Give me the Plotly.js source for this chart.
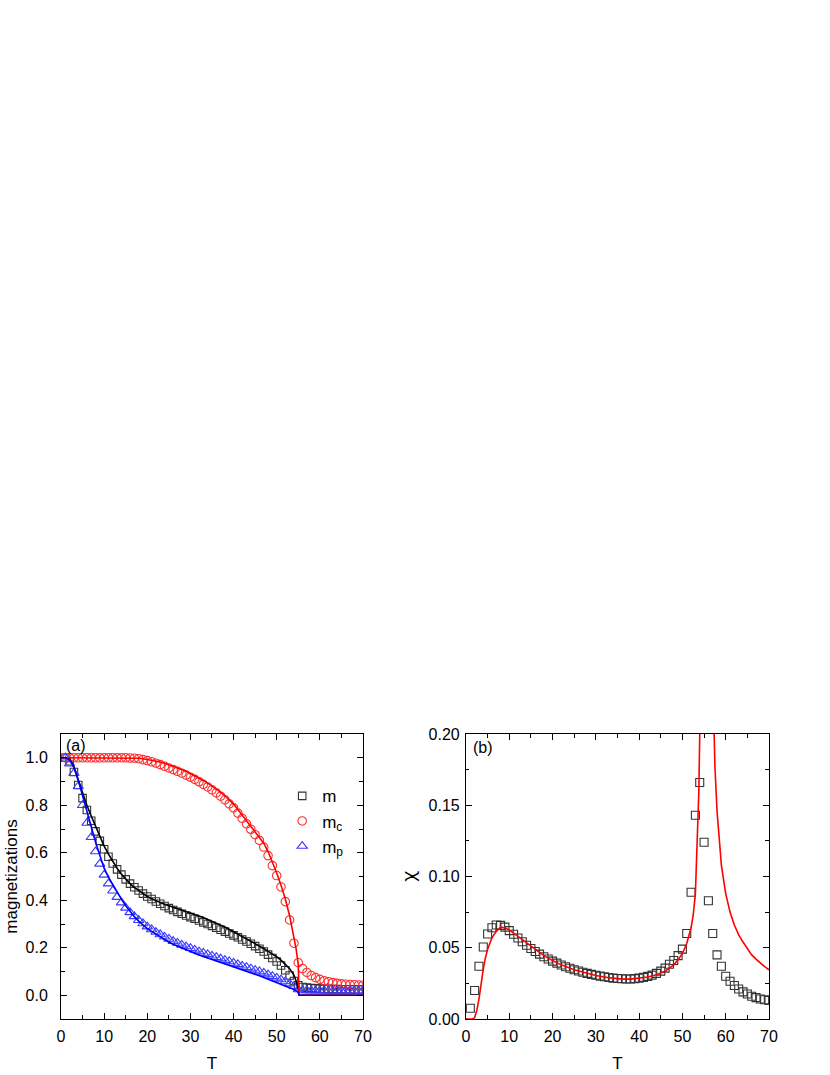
<!DOCTYPE html>
<html>
<head>
<meta charset="utf-8">
<script src="https://cdn.plot.ly/plotly-3.0.1.min.js"></script>
<style>
  body { margin: 0; background: #fff; }
  #chart { width: 830px; height: 1075px; }
</style>
</head>
<body>
<div id="chart"></div>
<script>
// temperatures of the simulation points (both panels)
const tPts = [1,2,3,4,5,6,7,8,9,10,11,12,13,14,15,16,17,18,19,20,
  21,22,23,24,25,26,27,28,29,30,31,32,33,34,35,36,37,38,39,40,
  41,42,43,44,45,46,47,48,49,50,51,52,53,54,55,56,57,58,59,60,
  61,62,63,64,65,66,67,68,69,70];

// panel (a): simulation points
const mPts = [1.000,0.985,0.940,0.885,0.830,0.780,0.735,0.690,0.650,0.615,
  0.583,0.555,0.530,0.508,0.488,0.470,0.455,0.441,0.428,0.416,
  0.405,0.395,0.385,0.376,0.367,0.359,0.351,0.343,0.336,0.329,
  0.322,0.315,0.307,0.300,0.292,0.284,0.276,0.268,0.260,0.252,
  0.244,0.235,0.226,0.217,0.207,0.196,0.184,0.171,0.157,0.142,
  0.125,0.105,0.083,0.060,0.042,0.035,0.032,0.030,0.029,0.028,
  0.027,0.027,0.026,0.026,0.025,0.025,0.025,0.024,0.024,0.024];
const mcPts = [1.000,1.000,1.000,1.000,1.000,1.000,1.000,1.000,1.000,1.000,
  1.000,1.000,1.000,1.000,1.000,0.999,0.998,0.996,0.992,0.988,
  0.983,0.977,0.971,0.964,0.957,0.950,0.943,0.935,0.927,0.918,
  0.909,0.899,0.888,0.877,0.865,0.852,0.838,0.823,0.806,0.789,
  0.767,0.745,0.722,0.699,0.676,0.652,0.624,0.588,0.546,0.504,
  0.456,0.394,0.317,0.219,0.137,0.112,0.096,0.083,0.074,0.067,
  0.061,0.057,0.053,0.050,0.048,0.046,0.045,0.044,0.043,0.042];
const mpPts = [1.000,0.975,0.935,0.880,0.800,0.725,0.665,0.605,0.553,0.507,
  0.470,0.440,0.413,0.390,0.368,0.349,0.332,0.316,0.302,0.289,
  0.277,0.266,0.256,0.246,0.237,0.228,0.220,0.212,0.205,0.198,
  0.191,0.184,0.178,0.172,0.166,0.160,0.154,0.148,0.142,0.136,
  0.130,0.124,0.118,0.112,0.106,0.100,0.094,0.087,0.080,0.073,
  0.066,0.058,0.049,0.039,0.024,0.020,0.020,0.019,0.019,0.019,
  0.019,0.018,0.018,0.018,0.018,0.018,0.018,0.018,0.018,0.018];

// panel (a): theory curves
const tLineA = [0,1,2,3,4,5,6,7,8,9,10,11,12,13,14,15,16,17,18,19,
  20,21,22,23,24,25,26,27,28,29,30,31,32,33,34,35,36,37,38,39,
  40,41,42,43,44,45,46,47,48,49,50,51,52,53,54,54.5,55,55.2,56,60,65,70];
const mLine = [1.000,1.000,0.998,0.960,0.905,0.850,0.800,0.755,0.710,0.668,
  0.628,0.594,0.563,0.535,0.510,0.489,0.470,0.454,0.440,0.428,
  0.416,0.406,0.397,0.390,0.383,0.377,0.372,0.366,0.360,0.353,
  0.347,0.340,0.334,0.327,0.319,0.312,0.304,0.295,0.287,0.277,
  0.268,0.258,0.249,0.239,0.229,0.218,0.208,0.197,0.185,0.174,
  0.162,0.148,0.132,0.112,0.085,0.060,0.025,0,0,0,0,0];
const mcLine = [1.000,1.000,1.000,1.000,1.000,1.000,1.000,1.000,1.000,1.000,
  1.000,1.000,1.000,1.000,1.000,1.000,0.999,0.999,0.998,0.996,
  0.993,0.990,0.986,0.982,0.977,0.971,0.965,0.958,0.951,0.943,
  0.934,0.925,0.915,0.904,0.893,0.881,0.868,0.855,0.840,0.823,
  0.805,0.782,0.759,0.736,0.714,0.691,0.668,0.640,0.605,0.562,
  0.515,0.463,0.405,0.335,0.250,0.195,0.130,0,0,0,0,0];
const mpLine = [1.000,1.000,0.990,0.960,0.905,0.840,0.765,0.700,0.645,0.590,
  0.535,0.497,0.465,0.435,0.405,0.377,0.352,0.331,0.312,0.296,
  0.281,0.269,0.257,0.245,0.234,0.224,0.215,0.207,0.199,0.191,
  0.183,0.176,0.169,0.163,0.157,0.151,0.145,0.139,0.133,0.127,
  0.121,0.115,0.108,0.102,0.095,0.089,0.082,0.075,0.068,0.062,
  0.055,0.048,0.041,0.033,0.024,0.019,0.013,0,0,0,0,0];

// panel (b): susceptibility
const chiPts = [0.0075,0.020,0.037,0.0505,0.0596,0.064,0.066,0.0657,0.0645,0.062,
  0.0595,0.0568,0.0542,0.0518,0.0495,0.0474,0.0455,0.0437,0.0421,0.0406,
  0.0392,0.0379,0.0367,0.0356,0.0346,0.0337,0.0328,0.0320,0.0313,0.0307,
  0.0301,0.0296,0.0291,0.0287,0.0284,0.0282,0.0281,0.0281,0.0283,0.0287,
  0.0292,0.0299,0.0308,0.0320,0.0336,0.0357,0.0384,0.0410,0.0445,0.049,
  0.060,0.089,0.143,0.166,0.124,0.083,0.060,0.045,0.037,0.030,
  0.0265,0.0235,0.021,0.019,0.0175,0.016,0.015,0.014,0.0135,0.013];
const tLineB = [0,1,1.5,2,2.5,3,3.5,4,4.5,5,6,7,8,9,10,12,14,16,18,20,22,25,28,30,33,36,38,40,42,44,46,48,49,50,51,52,52.5,53,53.5,53.8,54,54.2,55.5,
  56.8,57,57.2,57.5,58,58.5,59,60,61,62,63,64,65,66,67,68,69,70];
const chiLine = [0,0,0,0.001,0.006,0.014,0.025,0.035,0.043,0.049,0.057,0.0615,0.0645,0.064,0.0625,0.058,0.053,0.0485,0.0445,0.041,0.038,0.0345,0.0318,0.0305,0.029,0.028,0.028,0.0285,0.0295,0.031,0.0335,0.038,0.0415,0.046,0.053,0.064,0.073,0.088,0.125,0.16,0.2,0.26,null,
  0.27,0.235,0.205,0.178,0.146,0.124,0.108,0.088,0.075,0.066,0.059,0.054,0.049,0.045,0.042,0.039,0.0367,0.0345];

const FONT = 'Liberation Sans, Arial, sans-serif';

const data = [
  { x: tPts, y: mPts, type: 'scatter', mode: 'markers', name: 'm',
    marker: { symbol: 'square-open', size: 7.5, color: '#333333', line: { width: 1.1 } } },
  { x: tPts, y: mcPts, type: 'scatter', mode: 'markers', name: 'm<sub>c</sub>',
    marker: { symbol: 'circle-open', size: 8.5, color: '#ff3030', line: { width: 1.1 } } },
  { x: tPts, y: mpPts, type: 'scatter', mode: 'markers', name: 'm<sub>p</sub>',
    marker: { symbol: 'triangle-up-open', size: 9, color: '#3a3aff', line: { width: 1.1 } } },
  { x: tLineA, y: mLine, type: 'scatter', mode: 'lines', showlegend: false,
    line: { color: '#000000', width: 1.6 } },
  { x: tLineA, y: mcLine, type: 'scatter', mode: 'lines', showlegend: false,
    line: { color: '#ff0000', width: 1.6 } },
  { x: tLineA, y: mpLine, type: 'scatter', mode: 'lines', showlegend: false,
    line: { color: '#0000ff', width: 1.6 } },
  { x: tPts, y: chiPts, type: 'scatter', mode: 'markers', showlegend: false,
    xaxis: 'x2', yaxis: 'y2',
    marker: { symbol: 'square-open', size: 8, color: '#333333', line: { width: 1.1 } } },
  { x: tLineB, y: chiLine, type: 'scatter', mode: 'lines', showlegend: false,
    xaxis: 'x2', yaxis: 'y2', connectgaps: false,
    line: { color: '#ff0000', width: 1.6 } }
];

function axisStyle(extra) {
  return Object.assign({
    showline: true, linecolor: '#000', linewidth: 1, mirror: 'ticks',
    ticks: 'inside', ticklen: 6, tickwidth: 1, tickcolor: '#000',
    showgrid: false, zeroline: false,
    tickfont: { family: FONT, size: 16, color: '#000' }
  }, extra);
}

const layout = {
  width: 830, height: 1075,
  margin: { l: 0, r: 0, t: 0, b: 0 },
  paper_bgcolor: '#fff', plot_bgcolor: '#fff',
  font: { family: FONT, color: '#000' },
  showlegend: true,
  legend: {
    x: 0.34, y: 0.276, xanchor: 'left', yanchor: 'top',
    bgcolor: 'rgba(0,0,0,0)', font: { family: FONT, size: 17 }, tracegroupgap: 0
  },
  xaxis: axisStyle({
    domain: [0.0735, 0.4373], range: [0, 70], anchor: 'y',
    dtick: 10, tick0: 0, ticklabelstandoff: 3,
    minor: { ticks: 'inside', ticklen: 3.5, dtick: 5, tickcolor: '#000', showgrid: false },
    title: { text: 'T', font: { family: FONT, size: 17 }, standoff: 12 }
  }),
  yaxis: axisStyle({
    domain: [0.0521, 0.3172], range: [-0.1, 1.1], anchor: 'x',
    dtick: 0.2, tick0: 0, tickformat: '.1f', ticklabelstandoff: 9,
    minor: { ticks: 'inside', ticklen: 3.5, dtick: 0.1, tickcolor: '#000', showgrid: false },
    title: { text: 'magnetizations', font: { family: FONT, size: 17 }, standoff: 3 }
  }),
  xaxis2: axisStyle({
    domain: [0.5614, 0.9265], range: [0, 70], anchor: 'y2',
    dtick: 10, tick0: 0, ticklabelstandoff: 3,
    minor: { ticks: 'inside', ticklen: 3.5, dtick: 5, tickcolor: '#000', showgrid: false },
    title: { text: 'T', font: { family: FONT, size: 17 }, standoff: 12 }
  }),
  yaxis2: axisStyle({
    domain: [0.0521, 0.3172], range: [0, 0.2], anchor: 'x2',
    dtick: 0.05, tick0: 0, tickformat: '.2f', ticklabelstandoff: 2,
    minor: { ticks: 'inside', ticklen: 3.5, dtick: 0.025, tickcolor: '#000', showgrid: false },
    title: { text: 'χ', font: { family: 'Noto Sans, DejaVu Sans, sans-serif', size: 18 }, standoff: 8 }
  }),
  annotations: [
    { text: '(a)', xref: 'x domain', yref: 'y domain', x: 0.01, y: 0.995,
      xanchor: 'left', yanchor: 'top', showarrow: false, font: { family: FONT, size: 16 } },
    { text: '(b)', xref: 'x2 domain', yref: 'y2 domain', x: 0.018, y: 0.988,
      xanchor: 'left', yanchor: 'top', showarrow: false, font: { family: FONT, size: 16 } }
  ]
};

Plotly.newPlot('chart', data, layout, { displayModeBar: false, staticPlot: true });
</script>
</body>
</html>
